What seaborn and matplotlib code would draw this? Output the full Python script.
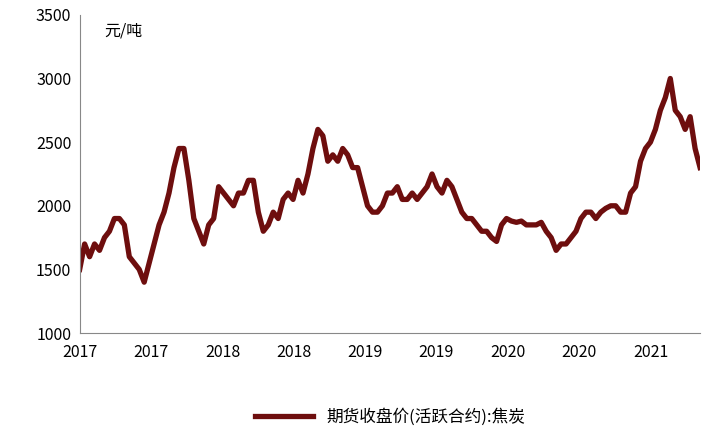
import matplotlib
matplotlib.use("Agg")
import matplotlib.pyplot as plt
import seaborn as sns
import pandas as pd

values = [1500,1700,1600,1700,1650,1750,1800,1900,1900,1850,1600,1550,1500,1400,1550,1700,1850,1950,2100,2300,
          2450,2450,2200,1900,1800,1700,1850,1900,2150,2100,2050,2000,2100,2100,2200,2200,1950,1800,1850,1950,
          1900,2050,2100,2050,2200,2100,2250,2450,2600,2550,2350,2400,2350,2450,2400,2300,2300,2150,2000,1950,
          1950,2000,2100,2100,2150,2050,2050,2100,2050,2100,2150,2250,2150,2100,2200,2150,2050,1950,1900,1900,
          1850,1800,1800,1750,1720,1850,1900,1880,1870,1880,1850,1850,1850,1870,1800,1750,1650,1700,1700,1750,
          1800,1900,1950,1950,1900,1950,1980,2000,2000,1950,1950,2100,2150,2350,2450,2500,2600,2750,2850,3000,
          2750,2700,2600,2700,2450,2300]
dates = pd.date_range(start="2017-01-03", periods=len(values), freq="12D")
tick_dates = pd.to_datetime(["2017-01-03","2017-06-25","2017-12-15","2018-06-05","2018-11-25",
                             "2019-05-15","2019-11-05","2020-04-25","2020-10-15"])
tick_labels = ["2017","2017","2018","2018","2019","2019","2020","2020","2021"]
series_name = "期货收盘价(活跃合约):焦炭"

plt.rcParams["font.family"] = ["Noto Sans CJK SC", "DejaVu Sans"]
fig = plt.figure(figsize=(7.05, 4.36), dpi=100)
ax = fig.add_axes([0.113, 0.236, 0.88, 0.73])
df = pd.DataFrame({"date": dates, "v": values})
sns.lineplot(data=df, x="date", y="v", ax=ax, color="#6E0E0E", linewidth=3.8, label=series_name)
ax.set_ylim(1000, 3500)
ax.set_yticks(range(1000, 3501, 500))
ax.set_xlim(dates[0], dates[-1])
ax.set_xticks(tick_dates)
ax.set_xticklabels(tick_labels)
ax.tick_params(labelsize=11.5, length=0)
ax.tick_params(axis="x", pad=8)
ax.tick_params(axis="y", pad=6)
ax.set_xlabel(""); ax.set_ylabel("")
for s in ["top", "right"]:
    ax.spines[s].set_visible(False)
for s in ["left", "bottom"]:
    ax.spines[s].set_color("#888888")
ax.text(0.04, 0.975, "元/吨", transform=ax.transAxes, fontsize=11.5, va="top")
ax.legend(loc="upper center", bbox_to_anchor=(0.5, -0.19), frameon=False, fontsize=12, handlelength=3.5)
fig.savefig("out.png", dpi=100)
